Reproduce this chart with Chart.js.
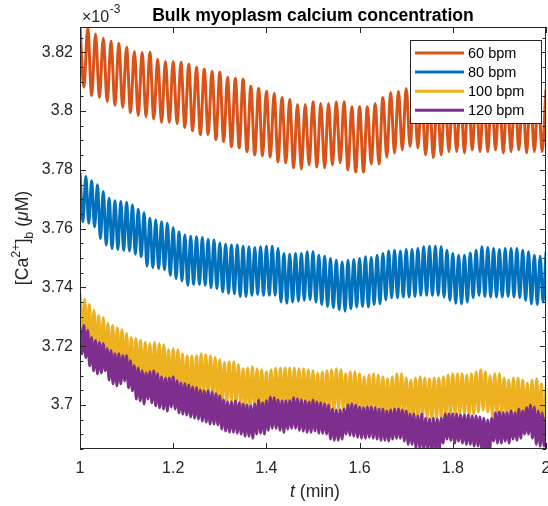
<!DOCTYPE html>
<html>
<head>
<meta charset="utf-8">
<title>Bulk myoplasm calcium concentration</title>
<script src="https://cdn.jsdelivr.net/npm/chart.js@4/dist/chart.umd.min.js"></script>
<style>
  html, body { margin: 0; padding: 0; background: #fff; }
  #wrap { width: 548px; height: 506px; }
</style>
</head>
<body>
<div id="wrap"><canvas id="caChart" width="548" height="506"></canvas></div>
<script>
// Pacing rates (beats per minute) and their legend entries
const rates = [60, 80, 100, 120];
const seriesLabels = ['60 bpm', '80 bpm', '100 bpm', '120 bpm'];

// Bulk [Ca2+] (x 1e-3 uM): value at the top of every beat, and at the bottom half a beat later
const peaks60 = [
  3.8289, 3.8282, 3.8262, 3.8248, 3.8238, 3.8231, 3.8217, 3.8203, 3.8200, 3.8200,
  3.8176, 3.8169, 3.8169, 3.8166, 3.8159, 3.8149, 3.8142, 3.8135, 3.8132, 3.8115,
  3.8111, 3.8108, 3.8084, 3.8077, 3.8067, 3.8060, 3.8046, 3.8039, 3.8022, 3.8022,
  3.8032, 3.8026, 3.8026, 3.8032, 3.8032, 3.8015, 3.8015, 3.8015, 3.8026, 3.8046,
  3.8063, 3.8067, 3.8077, 3.8077, 3.8053, 3.8043, 3.8053, 3.8063, 3.8063, 3.8060,
  3.8070, 3.8063, 3.8063, 3.8070, 3.8060, 3.8063, 3.8070, 3.8060, 3.8063, 3.8063,
  3.8074
];
const troughs60 = [
  3.8081, 3.8053, 3.8046, 3.8032, 3.8019, 3.8012, 3.7995, 3.7985, 3.7981, 3.7974,
  3.7961, 3.7961, 3.7957, 3.7944, 3.7933, 3.7920, 3.7920, 3.7903, 3.7896, 3.7879,
  3.7875, 3.7862, 3.7851, 3.7848, 3.7844, 3.7827, 3.7824, 3.7807, 3.7803, 3.7817,
  3.7810, 3.7807, 3.7817, 3.7824, 3.7800, 3.7793, 3.7793, 3.7820, 3.7820, 3.7844,
  3.7858, 3.7868, 3.7879, 3.7875, 3.7851, 3.7841, 3.7851, 3.7862, 3.7862, 3.7858,
  3.7868, 3.7862, 3.7862, 3.7868, 3.7858, 3.7862, 3.7868, 3.7858, 3.7862, 3.7862
];

const peaks80 = [
  3.7789, 3.7777, 3.7763, 3.7749, 3.7726, 3.7703, 3.7695, 3.7692, 3.7690, 3.7680,
  3.7666, 3.7654, 3.7635, 3.7629, 3.7623, 3.7618, 3.7603, 3.7589, 3.7578, 3.7574,
  3.7572, 3.7570, 3.7564, 3.7561, 3.7551, 3.7547, 3.7544, 3.7544, 3.7540, 3.7538,
  3.7536, 3.7538, 3.7540, 3.7540, 3.7532, 3.7515, 3.7513, 3.7515, 3.7515, 3.7521,
  3.7521, 3.7509, 3.7506, 3.7498, 3.7492, 3.7486, 3.7492, 3.7495, 3.7498, 3.7504,
  3.7502, 3.7509, 3.7515, 3.7524, 3.7526, 3.7524, 3.7529, 3.7529, 3.7532, 3.7538,
  3.7540, 3.7540, 3.7538, 3.7526, 3.7515, 3.7509, 3.7509, 3.7517, 3.7526, 3.7538,
  3.7536, 3.7532, 3.7529, 3.7532, 3.7532, 3.7532, 3.7526, 3.7521, 3.7509, 3.7506,
  3.7521
];
const troughs80 = [
  3.7623, 3.7618, 3.7606, 3.7566, 3.7544, 3.7532, 3.7529, 3.7526, 3.7524, 3.7513,
  3.7504, 3.7472, 3.7467, 3.7464, 3.7460, 3.7441, 3.7430, 3.7422, 3.7407, 3.7410,
  3.7410, 3.7407, 3.7399, 3.7396, 3.7384, 3.7380, 3.7378, 3.7369, 3.7369, 3.7373,
  3.7376, 3.7373, 3.7373, 3.7373, 3.7350, 3.7346, 3.7350, 3.7353, 3.7356, 3.7358,
  3.7350, 3.7342, 3.7335, 3.7331, 3.7324, 3.7319, 3.7327, 3.7333, 3.7335, 3.7333,
  3.7342, 3.7344, 3.7358, 3.7365, 3.7365, 3.7367, 3.7367, 3.7369, 3.7373, 3.7373,
  3.7373, 3.7373, 3.7367, 3.7356, 3.7346, 3.7344, 3.7350, 3.7365, 3.7373, 3.7369,
  3.7367, 3.7367, 3.7367, 3.7369, 3.7367, 3.7365, 3.7356, 3.7344, 3.7342, 3.7350
];

const peaks100 = [
  3.7379, 3.7359, 3.7342, 3.7321, 3.7304, 3.7297, 3.7277, 3.7270, 3.7263, 3.7256,
  3.7243, 3.7229, 3.7226, 3.7219, 3.7212, 3.7208, 3.7212, 3.7208, 3.7205, 3.7188,
  3.7191, 3.7188, 3.7174, 3.7167, 3.7167, 3.7167, 3.7174, 3.7171, 3.7167, 3.7161,
  3.7154, 3.7144, 3.7147, 3.7147, 3.7137, 3.7123, 3.7126, 3.7130, 3.7123, 3.7120,
  3.7113, 3.7120, 3.7126, 3.7126, 3.7126, 3.7126, 3.7126, 3.7123, 3.7123, 3.7120,
  3.7116, 3.7109, 3.7113, 3.7116, 3.7120, 3.7123, 3.7120, 3.7106, 3.7113, 3.7113,
  3.7106, 3.7096, 3.7102, 3.7106, 3.7102, 3.7096, 3.7089, 3.7096, 3.7106, 3.7106,
  3.7092, 3.7085, 3.7092, 3.7096, 3.7092, 3.7089, 3.7092, 3.7092, 3.7096, 3.7102,
  3.7106, 3.7106, 3.7106, 3.7102, 3.7106, 3.7113, 3.7120, 3.7113, 3.7099, 3.7106,
  3.7106, 3.7092, 3.7085, 3.7092, 3.7092, 3.7085, 3.7075, 3.7085, 3.7089, 3.7072,
  3.7058
];
const troughs100 = [
  3.7242, 3.7222, 3.7205, 3.7184, 3.7167, 3.7160, 3.7140, 3.7133, 3.7126, 3.7119,
  3.7106, 3.7092, 3.7089, 3.7082, 3.7075, 3.7071, 3.7075, 3.7071, 3.7068, 3.7051,
  3.7054, 3.7051, 3.7037, 3.7030, 3.7030, 3.7030, 3.7037, 3.7034, 3.7030, 3.7024,
  3.7017, 3.7007, 3.7010, 3.7010, 3.7000, 3.6986, 3.6989, 3.6993, 3.6986, 3.6983,
  3.6976, 3.6983, 3.6989, 3.6989, 3.6989, 3.6989, 3.6989, 3.6986, 3.6986, 3.6983,
  3.6979, 3.6972, 3.6976, 3.6979, 3.6983, 3.6986, 3.6983, 3.6969, 3.6976, 3.6976,
  3.6969, 3.6959, 3.6965, 3.6969, 3.6965, 3.6959, 3.6952, 3.6959, 3.6969, 3.6969,
  3.6955, 3.6948, 3.6955, 3.6959, 3.6955, 3.6952, 3.6955, 3.6955, 3.6959, 3.6965,
  3.6969, 3.6969, 3.6969, 3.6965, 3.6969, 3.6976, 3.6983, 3.6976, 3.6962, 3.6969,
  3.6969, 3.6955, 3.6948, 3.6955, 3.6955, 3.6948, 3.6938, 3.6948, 3.6952, 3.6935
];

const peaks120 = [
  3.7263, 3.7270, 3.7253, 3.7229, 3.7219, 3.7212, 3.7208, 3.7191, 3.7185, 3.7174,
  3.7174, 3.7167, 3.7167, 3.7150, 3.7133, 3.7126, 3.7116, 3.7109, 3.7113, 3.7116,
  3.7106, 3.7096, 3.7092, 3.7092, 3.7096, 3.7082, 3.7075, 3.7072, 3.7068, 3.7061,
  3.7058, 3.7051, 3.7048, 3.7048, 3.7044, 3.7038, 3.7031, 3.7017, 3.7010, 3.7010,
  3.7014, 3.7007, 3.7003, 3.7000, 3.6997, 3.7003, 3.7017, 3.7007, 3.7014, 3.7027,
  3.7024, 3.7017, 3.7014, 3.7014, 3.7014, 3.7024, 3.7020, 3.7017, 3.7014, 3.7010,
  3.7017, 3.7010, 3.7007, 3.7003, 3.7000, 3.6986, 3.6983, 3.6983, 3.6986, 3.7000,
  3.7003, 3.7000, 3.6993, 3.6990, 3.6993, 3.6993, 3.6990, 3.6986, 3.6986, 3.6979,
  3.6983, 3.6986, 3.6986, 3.6983, 3.6979, 3.6969, 3.6969, 3.6962, 3.6969, 3.6955,
  3.6952, 3.6955, 3.6952, 3.6955, 3.6969, 3.6969, 3.6969, 3.6969, 3.6966, 3.6966,
  3.6966, 3.6962, 3.6962, 3.6959, 3.6955, 3.6949, 3.6955, 3.6973, 3.6976, 3.6973,
  3.6973, 3.6979, 3.6973, 3.6986, 3.6979, 3.6990, 3.7000, 3.6993, 3.6979, 3.6973,
  3.6959
];
const troughs120 = [
  3.7174, 3.7161, 3.7133, 3.7116, 3.7106, 3.7109, 3.7116, 3.7085, 3.7072, 3.7065,
  3.7072, 3.7082, 3.7058, 3.7048, 3.7020, 3.7014, 3.7003, 3.7020, 3.7007, 3.6997,
  3.6990, 3.6986, 3.6979, 3.6993, 3.6986, 3.6973, 3.6969, 3.6966, 3.6959, 3.6955,
  3.6952, 3.6945, 3.6942, 3.6935, 3.6935, 3.6932, 3.6918, 3.6911, 3.6907, 3.6907,
  3.6904, 3.6901, 3.6894, 3.6894, 3.6887, 3.6901, 3.6904, 3.6901, 3.6914, 3.6921,
  3.6921, 3.6914, 3.6907, 3.6918, 3.6921, 3.6921, 3.6914, 3.6911, 3.6907, 3.6907,
  3.6911, 3.6904, 3.6904, 3.6901, 3.6884, 3.6880, 3.6880, 3.6884, 3.6901, 3.6897,
  3.6894, 3.6890, 3.6887, 3.6887, 3.6890, 3.6887, 3.6884, 3.6880, 3.6880, 3.6877,
  3.6884, 3.6887, 3.6887, 3.6877, 3.6866, 3.6866, 3.6849, 3.6853, 3.6846, 3.6849,
  3.6843, 3.6846, 3.6843, 3.6870, 3.6884, 3.6880, 3.6870, 3.6877, 3.6870, 3.6866,
  3.6866, 3.6860, 3.6860, 3.6846, 3.6839, 3.6843, 3.6877, 3.6870, 3.6870, 3.6877,
  3.6870, 3.6884, 3.6880, 3.6887, 3.6901, 3.6901, 3.6887, 3.6866, 3.6860, 3.6860
];

// Axis ticks
const xTicks = [1, 1.2, 1.4, 1.6, 1.8, 2];
const xTickLabels = ['1', '1.2', '1.4', '1.6', '1.8', '2'];
const yTicks = [3.7, 3.72, 3.74, 3.76, 3.78, 3.8, 3.82];
const yTickLabels = ['3.7', '3.72', '3.74', '3.76', '3.78', '3.8', '3.82'];

const FONT = '"Liberation Sans", Arial, Helvetica, sans-serif';
const AXIS_COLOR = '#262626';

// One point at every beat maximum and one half a beat later at the minimum
function beatTrace(bpm, peaks, troughs) {
  const pts = [];
  peaks.forEach((p, k) => {
    pts.push({ x: 1 + k / bpm, y: p });
    if (k < troughs.length) {
      pts.push({ x: 1 + (k + 0.5) / bpm, y: troughs[k] });
    }
  });
  return pts;
}

function trace(i, peaks, troughs, color) {
  return {
    label: seriesLabels[i],
    data: beatTrace(rates[i], peaks, troughs),
    borderColor: color,
    backgroundColor: color,
    borderWidth: 3,
    pointRadius: 0,
    fill: false,
    cubicInterpolationMode: 'monotone',
    borderJoinStyle: 'round',
    clip: 0,
    order: 3 - i   // later series are painted over earlier ones
  };
}

// Box, inward ticks and minor ticks
const axesFrame = {
  id: 'axesFrame',
  afterDatasetsDraw(chart) {
    const { ctx, chartArea: a, scales: { x, y } } = chart;
    ctx.save();
    ctx.strokeStyle = AXIS_COLOR;
    ctx.lineWidth = 1;
    ctx.strokeRect(a.left + 0.5, a.top + 0.5, a.right - a.left - 1, a.bottom - a.top - 1);

    ctx.beginPath();
    xTicks.forEach(v => {
      const px = Math.round(x.getPixelForValue(v)) + 0.5;
      ctx.moveTo(px, a.bottom); ctx.lineTo(px, a.bottom - 6);
      ctx.moveTo(px, a.top); ctx.lineTo(px, a.top + 6);
    });
    yTicks.forEach(v => {
      const py = Math.round(y.getPixelForValue(v)) + 0.5;
      ctx.moveTo(a.left, py); ctx.lineTo(a.left + 6, py);
      ctx.moveTo(a.right, py); ctx.lineTo(a.right - 6, py);
    });
    for (let m = 3685; m <= 3825; m += 5) {
      if (m % 20 === 0) continue;
      const py = Math.round(y.getPixelForValue(m / 1000)) + 0.5;
      ctx.moveTo(a.left, py); ctx.lineTo(a.left + 3.5, py);
      ctx.moveTo(a.right, py); ctx.lineTo(a.right - 3.5, py);
    }
    ctx.stroke();
    ctx.restore();
  }
};

// Legend box in the upper right corner, painted over the traces
const boxLegend = {
  id: 'boxLegend',
  afterDraw(chart) {
    const ctx = chart.ctx;
    const left = 410, top = 40, width = 131, height = 83;
    ctx.save();
    ctx.fillStyle = '#fff';
    ctx.fillRect(left, top, width, height);
    ctx.strokeStyle = AXIS_COLOR;
    ctx.lineWidth = 1;
    ctx.strokeRect(left + 0.5, top + 0.5, width, height);
    ctx.font = '14.5px ' + FONT;
    ctx.textBaseline = 'middle';
    ctx.textAlign = 'left';
    chart.data.datasets.forEach((ds, i) => {
      const yy = top + 13 + i * 19.1;
      ctx.strokeStyle = ds.borderColor;
      ctx.lineWidth = 3;
      ctx.beginPath();
      ctx.moveTo(415, yy);
      ctx.lineTo(464, yy);
      ctx.stroke();
      ctx.fillStyle = '#000';
      ctx.fillText(ds.label, 468, yy + 0.5);
    });
    ctx.restore();
  }
};

// Title, exponent marker and axis titles
const annotations = {
  id: 'annotations',
  afterDraw(chart) {
    const { ctx, chartArea: a } = chart;
    ctx.save();
    ctx.fillStyle = '#000';
    ctx.textAlign = 'center';
    ctx.textBaseline = 'alphabetic';
    ctx.font = 'bold 17.6px ' + FONT;
    ctx.fillText('Bulk myoplasm calcium concentration', (a.left + a.right) / 2, 21);

    // x 10^-3 multiplier
    ctx.fillStyle = AXIS_COLOR;
    ctx.textAlign = 'left';
    ctx.font = '16px ' + FONT;
    ctx.fillText('\u00d710', 82, 22);
    const w10 = ctx.measureText('\u00d710').width;
    ctx.font = '12px ' + FONT;
    ctx.fillText('-3', 82 + w10 + 0.5, 13);

    // x axis title: t (min)
    ctx.font = 'italic 17.6px ' + FONT;
    const wt = ctx.measureText('t').width;
    ctx.font = '17.6px ' + FONT;
    const wr = ctx.measureText(' (min)').width;
    const xs = (a.left + a.right) / 2 + 2 - (wt + wr) / 2;
    ctx.font = 'italic 17.6px ' + FONT;
    ctx.fillText('t', xs, 497);
    ctx.font = '17.6px ' + FONT;
    ctx.fillText(' (min)', xs + wt, 497);

    // y axis title: [Ca2+]b (uM)
    const parts = [
      { t: '[Ca', f: '17.6px ', dy: 0 },
      { t: '2+', f: '12.5px ', dy: -8 },
      { t: ']', f: '17.6px ', dy: 0 },
      { t: 'b', f: '12.5px ', dy: 4.5 },
      { t: ' (', f: '17.6px ', dy: 0 },
      { t: '\u03bc', f: 'italic 17.6px ', dy: 0 },
      { t: 'M)', f: '17.6px ', dy: 0 }
    ];
    let total = 0;
    parts.forEach(p => { ctx.font = p.f + FONT; p.w = ctx.measureText(p.t).width; total += p.w; });
    ctx.translate(28, (a.top + a.bottom) / 2);
    ctx.rotate(-Math.PI / 2);
    let cx = -total / 2;
    parts.forEach(p => {
      ctx.font = p.f + FONT;
      ctx.fillText(p.t, cx, p.dy);
      cx += p.w;
    });
    ctx.restore();
  }
};

new Chart(document.getElementById('caChart'), {
  type: 'line',
  data: {
    datasets: [
      trace(0, peaks60, troughs60, '#D95319'),
      trace(1, peaks80, troughs80, '#0072BD'),
      trace(2, peaks100, troughs100, '#EDB120'),
      trace(3, peaks120, troughs120, '#7E2F8E')
    ]
  },
  options: {
    responsive: false,
    animation: false,
    devicePixelRatio: 1,
    layout: { padding: { top: 27, right: 2, left: 0, bottom: 0 } },
    plugins: {
      legend: { display: false },
      title: { display: false },
      tooltip: { enabled: false }
    },
    scales: {
      x: {
        type: 'linear',
        min: 1,
        max: 2,
        grid: { display: false, drawTicks: false },
        border: { display: false },
        ticks: {
          font: { family: FONT, size: 16 },
          color: AXIS_COLOR,
          padding: 10,
          maxRotation: 0,
          autoSkip: false,
          callback: (v, i) => xTickLabels[i]
        },
        afterBuildTicks: s => { s.ticks = xTicks.map(v => ({ value: v })); },
        afterFit: s => { s.height = 57; s.paddingLeft = 0; s.paddingRight = 0; }
      },
      y: {
        type: 'linear',
        min: 3.6850,
        max: 3.8286,
        grid: { display: false, drawTicks: false },
        border: { display: false },
        ticks: {
          font: { family: FONT, size: 16 },
          color: AXIS_COLOR,
          padding: 7,
          autoSkip: false,
          callback: (v, i) => yTickLabels[i]
        },
        afterBuildTicks: s => { s.ticks = yTicks.map(v => ({ value: v })); },
        afterFit: s => { s.width = 80; s.paddingTop = 0; s.paddingBottom = 0; }
      }
    }
  },
  plugins: [axesFrame, boxLegend, annotations]
});
</script>
</body>
</html>
